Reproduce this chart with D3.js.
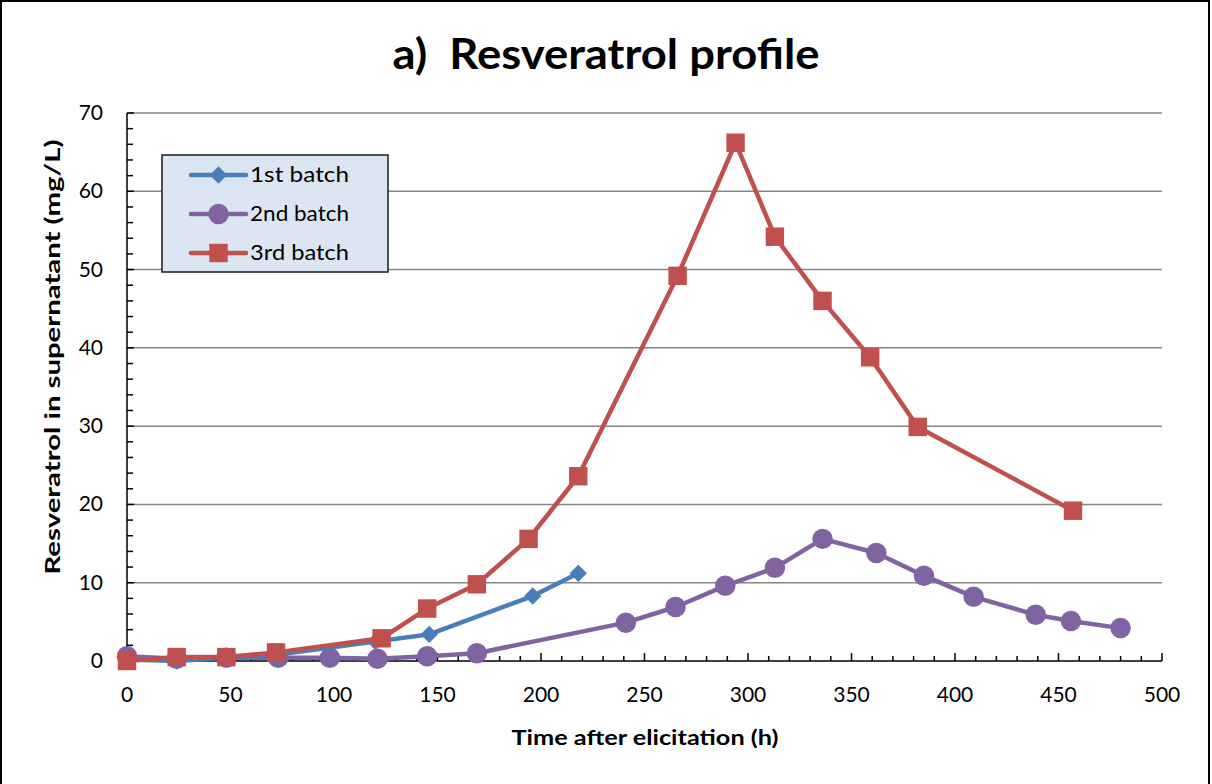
<!DOCTYPE html>
<html><head><meta charset="utf-8">
<script src="https://cdn.jsdelivr.net/npm/d3@7"></script>
<style>body{margin:0;background:#fff}svg{display:block}text{font-family:Lato,"Open Sans",sans-serif}</style>
</head><body><svg id="c" width="1212" height="784"></svg>
<script>
const seriesNames = ["1st batch","2nd batch","3rd batch"];
const batch1X = [0,24,48,72,120,146,196,218];
const batch1Y = [0.2,0,0.4,0.8,2.5,3.4,8.3,11.2];
const batch2X = [0,24,48,73,98,121,145,169,241,265,289,313,336,362,385,409,439,456,480];
const batch2Y = [0.6,0.3,0.4,0.4,0.4,0.3,0.6,1.0,4.9,6.9,9.6,11.9,15.6,13.8,10.9,8.2,5.9,5.1,4.2];
const batch3X = [0,24,48,72,123,145,169,194,218,266,294,313,336,359,382,457];
const batch3Y = [0,0.5,0.5,1.1,2.9,6.7,9.8,15.6,23.6,49.2,66.2,54.2,46.0,38.8,29.9,19.2];
const xTicks = [0,50,100,150,200,250,300,350,400,450,500];
const yTicks = [0,10,20,30,40,50,60,70];
const colors = ["#4a7ebb","#8064a2","#c0504d"];

const svg = d3.select("#c");
const L=127,R=1162,T=113,B=661;
const x = d3.scaleLinear().domain([0,500]).range([L,R]);
const y = d3.scaleLinear().domain([0,70]).range([B,T]);

svg.append("rect").attr("x",1).attr("y",1).attr("width",1208).attr("height",800)
  .attr("fill","#fff").attr("stroke","#000").attr("stroke-width",2);

svg.append("g").selectAll("line").data(yTicks.slice(1)).join("line")
  .attr("x1",L).attr("x2",R).attr("y1",d=>y(d)).attr("y2",d=>y(d))
  .attr("stroke","#868686").attr("stroke-width",1.5);

svg.append("line").attr("x1",L).attr("x2",L).attr("y1",T).attr("y2",B).attr("stroke","#000").attr("stroke-width",1.5);
svg.append("line").attr("x1",L).attr("x2",R).attr("y1",B).attr("y2",B).attr("stroke","#000").attr("stroke-width",1.5);
svg.append("g").selectAll("line").data(d3.range(0,71,2)).join("line")
  .attr("x1",L).attr("x2",d=>L+(d%10===0?7:6)).attr("y1",d=>y(d)).attr("y2",d=>y(d))
  .attr("stroke","#000").attr("stroke-width",1.5);
svg.append("g").selectAll("line").data(d3.range(0,501,10)).join("line")
  .attr("x1",d=>x(d)).attr("x2",d=>x(d)).attr("y1",B).attr("y2",d=>B-(d%50===0?8:5))
  .attr("stroke","#000").attr("stroke-width",1.5);

svg.append("g").selectAll("text").data(yTicks).join("text")
  .attr("x",103).attr("y",d=>y(d)+7).attr("text-anchor","end")
  .attr("font-size",21).attr("fill","#000").text(d=>d);
svg.append("g").selectAll("text").data(xTicks).join("text")
  .attr("x",d=>x(d)).attr("y",702).attr("text-anchor","middle")
  .attr("font-size",21).attr("fill","#000").text(d=>d);

svg.append("text").attr("x",606).attr("y",69).attr("text-anchor","middle")
  .attr("font-size",42).attr("font-weight","bold").attr("xml:space","preserve")
  .attr("textLength",427).attr("lengthAdjust","spacingAndGlyphs").text("a)  Resveratrol profile");
svg.append("text").attr("x",645).attr("y",745).attr("text-anchor","middle")
  .attr("font-size",21).attr("font-weight","bold")
  .attr("textLength",267).attr("lengthAdjust","spacingAndGlyphs").text("Time after elicitation (h)");
svg.append("text").attr("transform","translate(60,357) rotate(-90)").attr("text-anchor","middle")
  .attr("font-size",21).attr("font-weight","bold")
  .attr("textLength",435).attr("lengthAdjust","spacingAndGlyphs").text("Resveratrol in supernatant (mg/L)");

const series = [
  {xs:batch1X, ys:batch1Y},
  {xs:batch2X, ys:batch2Y},
  {xs:batch3X, ys:batch3Y}
];
const sym = [
  d3.symbol().type(d3.symbolSquare).size(150),
  d3.symbol().type(d3.symbolCircle).size(330),
  d3.symbol().type(d3.symbolSquare).size(340)
];
const rot = [45,0,0];
const line = d3.line().x(d=>x(d[0])).y(d=>y(d[1]));
[1,0,2].forEach(i=>{
  const s = series[i];
  const pts = s.xs.map((v,j)=>[v,s.ys[j]]);
  const g = svg.append("g");
  g.append("path").attr("d",line(pts)).attr("fill","none").attr("stroke",colors[i]).attr("stroke-width",4.5).attr("stroke-linejoin","round");
  g.selectAll("path.m").data(pts).join("path").attr("class","m")
    .attr("d",sym[i]()).attr("transform",d=>`translate(${x(d[0])},${y(d[1])}) rotate(${rot[i]})`)
    .attr("fill",colors[i]);
});

const lg = svg.append("g");
lg.append("rect").attr("x",162).attr("y",155).attr("width",226).attr("height",117)
  .attr("fill","#dce6f2").attr("stroke","#1a1a1a").attr("stroke-width",1.5);
seriesNames.forEach((n,i)=>{
  const yy = 175 + i*39;
  lg.append("line").attr("x1",191).attr("x2",246).attr("y1",yy).attr("y2",yy).attr("stroke",colors[i]).attr("stroke-width",4.5).attr("stroke-linecap","round");
  lg.append("path").attr("d",sym[i]()).attr("transform",`translate(218.5,${yy}) rotate(${rot[i]})`).attr("fill",colors[i]);
  lg.append("text").attr("x",250).attr("y",yy+7).attr("font-size",22).attr("fill","#000")
    .attr("textLength",99).attr("lengthAdjust","spacingAndGlyphs").text(n);
});
</script></body></html>
